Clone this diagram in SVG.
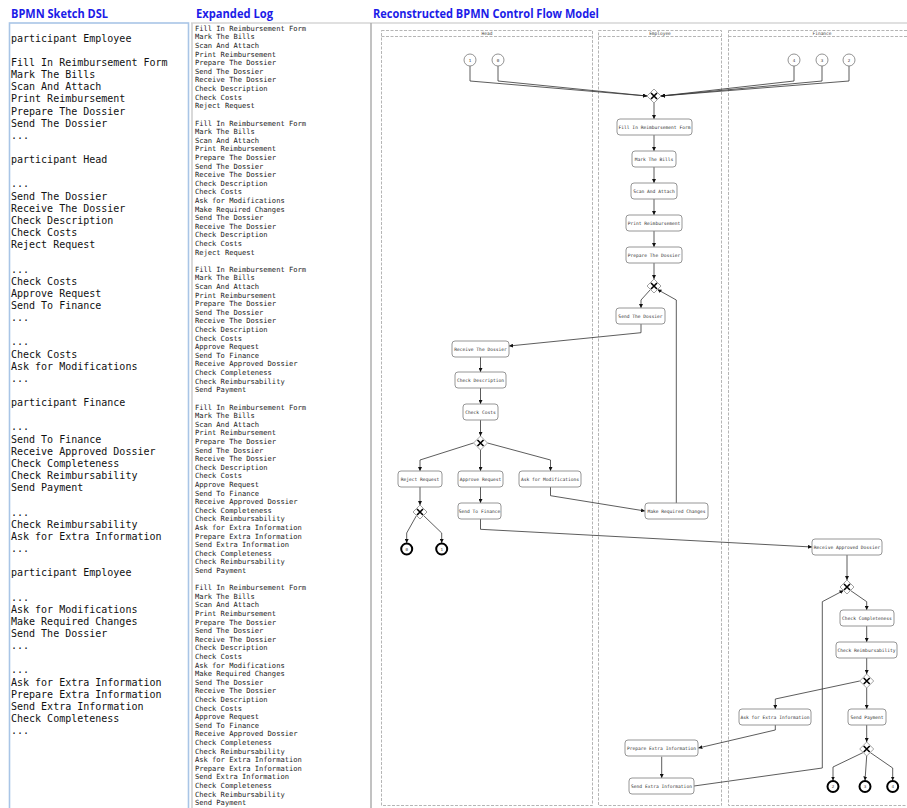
<svg xmlns="http://www.w3.org/2000/svg" width="907" height="808" viewBox="0 0 907 808">
<style>
.title{font-family:"Open Sans","Liberation Sans",sans-serif;font-weight:bold;font-size:13px;fill:#1c1ce8}
.dsl{font-family:"DejaVu Sans Mono","Liberation Mono",monospace;font-size:10px;fill:#111}
.log{font-family:"DejaVu Sans Mono","Liberation Mono",monospace;font-size:7.1px;fill:#222}
.lane{fill:none;stroke:#b5b5b5;stroke-width:1;stroke-dasharray:3 1.5}
.lanelbl{font-family:"DejaVu Sans Mono","Liberation Mono",monospace;font-size:4.5px;fill:#444;text-anchor:middle}
.task rect{fill:#fff;stroke:#8a8a8a;stroke-width:0.9}
.task text{font-family:"DejaVu Sans Mono","Liberation Mono",monospace;font-size:4.6px;fill:#333;text-anchor:middle}
.gw path.d{fill:#fff;stroke:#8a8a8a;stroke-width:0.8}
.gw path.x{stroke:#000;stroke-width:1.6;fill:none}
.start circle{fill:#fff;stroke:#777;stroke-width:0.8}
.end circle{fill:#fff;stroke:#000;stroke-width:2}
.ev text{font-family:"DejaVu Sans Mono","Liberation Mono",monospace;font-size:4.2px;fill:#333;text-anchor:middle}
.edges path{fill:none;stroke:#333;stroke-width:0.8;marker-end:url(#arr)}
</style>
<defs>
<marker id="arr" viewBox="0 0 6 6" refX="6" refY="3" markerWidth="4" markerHeight="4" markerUnits="userSpaceOnUse" orient="auto">
<path d="M0,0 L6,3 L0,6 z" fill="#111"/>
</marker>
</defs>
<rect width="907" height="808" fill="#fff"/>

<!-- titles -->
<text class="title" x="11" y="17.5" textLength="97" lengthAdjust="spacingAndGlyphs">BPMN Sketch DSL</text>
<text class="title" x="196" y="17.5" textLength="77" lengthAdjust="spacingAndGlyphs">Expanded Log</text>
<text class="title" x="373" y="17.5" textLength="226" lengthAdjust="spacingAndGlyphs">Reconstructed BPMN Control Flow Model</text>

<!-- panel borders -->
<rect x="9.5" y="23" width="179" height="800" fill="none" stroke="#a9c5e6" stroke-width="1.6"/>
<line x1="191" y1="23" x2="907" y2="23" stroke="#d6d6d6" stroke-width="1.6"/>
<line x1="192" y1="23" x2="192" y2="808" stroke="#d0d0d0" stroke-width="1.6"/>
<line x1="371" y1="23" x2="371" y2="808" stroke="#a8a8a8" stroke-width="1.4"/>

<!-- DSL text -->
<text class="dsl" xml:space="preserve">
<tspan x="11" y="41.6">participant Employee</tspan>
<tspan x="11" y="65.9">Fill In Reimbursement Form</tspan>
<tspan x="11" y="78.0">Mark The Bills</tspan>
<tspan x="11" y="90.2">Scan And Attach</tspan>
<tspan x="11" y="102.3">Print Reimbursement</tspan>
<tspan x="11" y="114.5">Prepare The Dossier</tspan>
<tspan x="11" y="126.6">Send The Dossier</tspan>
<tspan x="11" y="138.8">...</tspan>
<tspan x="11" y="163.1">participant Head</tspan>
<tspan x="11" y="187.4">...</tspan>
<tspan x="11" y="199.6">Send The Dossier</tspan>
<tspan x="11" y="211.7">Receive The Dossier</tspan>
<tspan x="11" y="223.9">Check Description</tspan>
<tspan x="11" y="236.0">Check Costs</tspan>
<tspan x="11" y="248.2">Reject Request</tspan>
<tspan x="11" y="272.5">...</tspan>
<tspan x="11" y="284.6">Check Costs</tspan>
<tspan x="11" y="296.8">Approve Request</tspan>
<tspan x="11" y="308.9">Send To Finance</tspan>
<tspan x="11" y="321.1">...</tspan>
<tspan x="11" y="345.4">...</tspan>
<tspan x="11" y="357.5">Check Costs</tspan>
<tspan x="11" y="369.7">Ask for Modifications</tspan>
<tspan x="11" y="381.8">...</tspan>
<tspan x="11" y="406.1">participant Finance</tspan>
<tspan x="11" y="430.4">...</tspan>
<tspan x="11" y="442.6">Send To Finance</tspan>
<tspan x="11" y="454.7">Receive Approved Dossier</tspan>
<tspan x="11" y="466.9">Check Completeness</tspan>
<tspan x="11" y="479.0">Check Reimbursability</tspan>
<tspan x="11" y="491.2">Send Payment</tspan>
<tspan x="11" y="515.5">...</tspan>
<tspan x="11" y="527.6">Check Reimbursability</tspan>
<tspan x="11" y="539.8">Ask for Extra Information</tspan>
<tspan x="11" y="551.9">...</tspan>
<tspan x="11" y="576.2">participant Employee</tspan>
<tspan x="11" y="600.5">...</tspan>
<tspan x="11" y="612.7">Ask for Modifications</tspan>
<tspan x="11" y="624.8">Make Required Changes</tspan>
<tspan x="11" y="637.0">Send The Dossier</tspan>
<tspan x="11" y="649.1">...</tspan>
<tspan x="11" y="673.4">...</tspan>
<tspan x="11" y="685.6">Ask for Extra Information</tspan>
<tspan x="11" y="697.7">Prepare Extra Information</tspan>
<tspan x="11" y="709.9">Send Extra Information</tspan>
<tspan x="11" y="722.0">Check Completeness</tspan>
<tspan x="11" y="734.2">...</tspan>
</text>

<!-- Expanded log -->
<text class="log">
<tspan x="195" y="30.8">Fill In Reimbursement Form</tspan>
<tspan x="195" y="39.4">Mark The Bills</tspan>
<tspan x="195" y="48.0">Scan And Attach</tspan>
<tspan x="195" y="56.6">Print Reimbursement</tspan>
<tspan x="195" y="65.2">Prepare The Dossier</tspan>
<tspan x="195" y="73.8">Send The Dossier</tspan>
<tspan x="195" y="82.4">Receive The Dossier</tspan>
<tspan x="195" y="91.0">Check Description</tspan>
<tspan x="195" y="99.6">Check Costs</tspan>
<tspan x="195" y="108.2">Reject Request</tspan>
<tspan x="195" y="125.5">Fill In Reimbursement Form</tspan>
<tspan x="195" y="134.1">Mark The Bills</tspan>
<tspan x="195" y="142.7">Scan And Attach</tspan>
<tspan x="195" y="151.3">Print Reimbursement</tspan>
<tspan x="195" y="159.9">Prepare The Dossier</tspan>
<tspan x="195" y="168.5">Send The Dossier</tspan>
<tspan x="195" y="177.1">Receive The Dossier</tspan>
<tspan x="195" y="185.7">Check Description</tspan>
<tspan x="195" y="194.3">Check Costs</tspan>
<tspan x="195" y="202.9">Ask for Modifications</tspan>
<tspan x="195" y="211.5">Make Required Changes</tspan>
<tspan x="195" y="220.1">Send The Dossier</tspan>
<tspan x="195" y="228.7">Receive The Dossier</tspan>
<tspan x="195" y="237.3">Check Description</tspan>
<tspan x="195" y="245.9">Check Costs</tspan>
<tspan x="195" y="254.5">Reject Request</tspan>
<tspan x="195" y="271.8">Fill In Reimbursement Form</tspan>
<tspan x="195" y="280.4">Mark The Bills</tspan>
<tspan x="195" y="289.0">Scan And Attach</tspan>
<tspan x="195" y="297.6">Print Reimbursement</tspan>
<tspan x="195" y="306.2">Prepare The Dossier</tspan>
<tspan x="195" y="314.8">Send The Dossier</tspan>
<tspan x="195" y="323.4">Receive The Dossier</tspan>
<tspan x="195" y="332.0">Check Description</tspan>
<tspan x="195" y="340.6">Check Costs</tspan>
<tspan x="195" y="349.2">Approve Request</tspan>
<tspan x="195" y="357.8">Send To Finance</tspan>
<tspan x="195" y="366.4">Receive Approved Dossier</tspan>
<tspan x="195" y="375.0">Check Completeness</tspan>
<tspan x="195" y="383.6">Check Reimbursability</tspan>
<tspan x="195" y="392.2">Send Payment</tspan>
<tspan x="195" y="409.5">Fill In Reimbursement Form</tspan>
<tspan x="195" y="418.1">Mark The Bills</tspan>
<tspan x="195" y="426.7">Scan And Attach</tspan>
<tspan x="195" y="435.3">Print Reimbursement</tspan>
<tspan x="195" y="443.9">Prepare The Dossier</tspan>
<tspan x="195" y="452.5">Send The Dossier</tspan>
<tspan x="195" y="461.1">Receive The Dossier</tspan>
<tspan x="195" y="469.7">Check Description</tspan>
<tspan x="195" y="478.3">Check Costs</tspan>
<tspan x="195" y="486.9">Approve Request</tspan>
<tspan x="195" y="495.5">Send To Finance</tspan>
<tspan x="195" y="504.1">Receive Approved Dossier</tspan>
<tspan x="195" y="512.7">Check Completeness</tspan>
<tspan x="195" y="521.3">Check Reimbursability</tspan>
<tspan x="195" y="529.9">Ask for Extra Information</tspan>
<tspan x="195" y="538.5">Prepare Extra Information</tspan>
<tspan x="195" y="547.1">Send Extra Information</tspan>
<tspan x="195" y="555.7">Check Completeness</tspan>
<tspan x="195" y="564.3">Check Reimbursability</tspan>
<tspan x="195" y="572.9">Send Payment</tspan>
<tspan x="195" y="590.2">Fill In Reimbursement Form</tspan>
<tspan x="195" y="598.8">Mark The Bills</tspan>
<tspan x="195" y="607.4">Scan And Attach</tspan>
<tspan x="195" y="616.0">Print Reimbursement</tspan>
<tspan x="195" y="624.6">Prepare The Dossier</tspan>
<tspan x="195" y="633.2">Send The Dossier</tspan>
<tspan x="195" y="641.8">Receive The Dossier</tspan>
<tspan x="195" y="650.4">Check Description</tspan>
<tspan x="195" y="659.0">Check Costs</tspan>
<tspan x="195" y="667.6">Ask for Modifications</tspan>
<tspan x="195" y="676.2">Make Required Changes</tspan>
<tspan x="195" y="684.8">Send The Dossier</tspan>
<tspan x="195" y="693.4">Receive The Dossier</tspan>
<tspan x="195" y="702.0">Check Description</tspan>
<tspan x="195" y="710.6">Check Costs</tspan>
<tspan x="195" y="719.2">Approve Request</tspan>
<tspan x="195" y="727.8">Send To Finance</tspan>
<tspan x="195" y="736.4">Receive Approved Dossier</tspan>
<tspan x="195" y="745.0">Check Completeness</tspan>
<tspan x="195" y="753.6">Check Reimbursability</tspan>
<tspan x="195" y="762.2">Ask for Extra Information</tspan>
<tspan x="195" y="770.8">Prepare Extra Information</tspan>
<tspan x="195" y="779.4">Send Extra Information</tspan>
<tspan x="195" y="788.0">Check Completeness</tspan>
<tspan x="195" y="796.6">Check Reimbursability</tspan>
<tspan x="195" y="805.2">Send Payment</tspan>
</text>

<!-- lanes -->
<g id="lane-head">
<rect class="lane" x="381.5" y="30.5" width="211" height="775"/>
<line class="lane" x1="381.5" y1="36.5" x2="592.5" y2="36.5"/>
<text class="lanelbl" x="487" y="35">Head</text>
</g>
<g id="lane-employee">
<rect class="lane" x="598.5" y="30.5" width="123" height="775"/>
<line class="lane" x1="598.5" y1="36.5" x2="721.5" y2="36.5"/>
<text class="lanelbl" x="660" y="35">Employee</text>
</g>
<g id="lane-finance">
<rect class="lane" x="728.5" y="30.5" width="187" height="775"/>
<line class="lane" x1="728.5" y1="36.5" x2="915.5" y2="36.5"/>
<text class="lanelbl" x="822" y="35">Finance</text>
</g>

<!-- connectors -->
<g id="edges" class="edges">
<path d="M470,66 V81 L647,96"/>
<path d="M498,66 V81 L647,96"/>
<path d="M794,66 V81 L661,96"/>
<path d="M822,66 V81 L661,96"/>
<path d="M849,66 V81 L661,96"/>
<path d="M654,103 V119"/>
<path d="M654,135 V151"/>
<path d="M654,167 V183"/>
<path d="M654,199 V215"/>
<path d="M654,231 V247"/>
<path d="M654,263 V279"/>
<path d="M650.5,289.5 L641,300 V308"/>
<path d="M641,324 V332.7 L509,346"/>
<path d="M480.5,357 V372"/>
<path d="M480.5,388 V404"/>
<path d="M480.5,420 V436"/>
<path d="M473.5,443 L420,460 V471"/>
<path d="M480.5,450 V471"/>
<path d="M487.5,443 L550.5,460 V471"/>
<path d="M420,487 V505"/>
<path d="M416.5,515.5 L406.7,533 V543"/>
<path d="M423.5,515.5 L441.7,533 V543"/>
<path d="M480.5,487 V503"/>
<path d="M480.5,519 V529.3 L812,547"/>
<path d="M550.5,487 V495.7 L645,511"/>
<path d="M676.3,503 V300 L657.5,289.5"/>
<path d="M847,555 V580"/>
<path d="M850.5,590.5 L866.7,601.7 V610"/>
<path d="M866.7,626 V642"/>
<path d="M866.7,658 V674"/>
<path d="M859.7,681 L775.3,699 V709"/>
<path d="M866.7,688 V709"/>
<path d="M775.3,725 V730 L698.3,748"/>
<path d="M661.7,756.7 V778"/>
<path d="M694,786 L822.3,768 V601.7 L843.5,590.5"/>
<path d="M866.7,725 V742"/>
<path d="M863.2,752.5 L833,767 V780.5"/>
<path d="M866.7,756 L865,780.5"/>
<path d="M870.2,752.5 L892.7,768 V780.5"/>
</g>

<!-- start events -->
<g id="start-1" class="ev start"><circle cx="470" cy="60" r="6"/><text x="470" y="61.5">1</text></g>
<g id="start-0" class="ev start"><circle cx="498" cy="60" r="6"/><text x="498" y="61.5">0</text></g>
<g id="start-4" class="ev start"><circle cx="794" cy="60" r="6"/><text x="794" y="61.5">4</text></g>
<g id="start-3" class="ev start"><circle cx="822" cy="60" r="6"/><text x="822" y="61.5">3</text></g>
<g id="start-2" class="ev start"><circle cx="849" cy="60" r="6"/><text x="849" y="61.5">2</text></g>

<!-- gateways -->
<g id="gw1" class="gw" transform="translate(654,96)"><path class="d" d="M0,-7 L7,0 L0,7 L-7,0 z"/><path class="x" d="M-3,-3 L3,3 M3,-3 L-3,3"/></g>
<g id="gw2" class="gw" transform="translate(654,286)"><path class="d" d="M0,-7 L7,0 L0,7 L-7,0 z"/><path class="x" d="M-3,-3 L3,3 M3,-3 L-3,3"/></g>
<g id="gw3" class="gw" transform="translate(480.5,443)"><path class="d" d="M0,-7 L7,0 L0,7 L-7,0 z"/><path class="x" d="M-3,-3 L3,3 M3,-3 L-3,3"/></g>
<g id="gw4" class="gw" transform="translate(420,512)"><path class="d" d="M0,-7 L7,0 L0,7 L-7,0 z"/><path class="x" d="M-3,-3 L3,3 M3,-3 L-3,3"/></g>
<g id="gw5" class="gw" transform="translate(847,587)"><path class="d" d="M0,-7 L7,0 L0,7 L-7,0 z"/><path class="x" d="M-3,-3 L3,3 M3,-3 L-3,3"/></g>
<g id="gw6" class="gw" transform="translate(866.7,681)"><path class="d" d="M0,-7 L7,0 L0,7 L-7,0 z"/><path class="x" d="M-3,-3 L3,3 M3,-3 L-3,3"/></g>
<g id="gw7" class="gw" transform="translate(866.7,749)"><path class="d" d="M0,-7 L7,0 L0,7 L-7,0 z"/><path class="x" d="M-3,-3 L3,3 M3,-3 L-3,3"/></g>

<!-- tasks -->
<g id="t-fill" class="task"><rect x="617" y="119" width="75" height="16" rx="3"/><text x="654.5" y="128.6">Fill In Reimbursement Form</text></g>
<g id="t-mark" class="task"><rect x="632" y="151" width="44" height="16" rx="3"/><text x="654" y="160.6">Mark The Bills</text></g>
<g id="t-scan" class="task"><rect x="631" y="183" width="46" height="16" rx="3"/><text x="654" y="192.6">Scan And Attach</text></g>
<g id="t-print" class="task"><rect x="626" y="215" width="56" height="16" rx="3"/><text x="654" y="224.6">Print Reimbursement</text></g>
<g id="t-prepare" class="task"><rect x="626" y="247" width="56" height="16" rx="3"/><text x="654" y="256.6">Prepare The Dossier</text></g>
<g id="t-send" class="task"><rect x="616" y="308" width="49" height="16" rx="3"/><text x="640.5" y="317.6">Send The Dossier</text></g>
<g id="t-receive" class="task"><rect x="452" y="341" width="57" height="16" rx="3"/><text x="480.5" y="350.6">Receive The Dossier</text></g>
<g id="t-desc" class="task"><rect x="455" y="372" width="51" height="16" rx="3"/><text x="480.5" y="381.6">Check Description</text></g>
<g id="t-costs" class="task"><rect x="463" y="404" width="35" height="16" rx="3"/><text x="480.5" y="413.6">Check Costs</text></g>
<g id="t-reject" class="task"><rect x="398" y="471" width="44" height="16" rx="3"/><text x="420" y="480.6">Reject Request</text></g>
<g id="t-approve" class="task"><rect x="458" y="471" width="45" height="16" rx="3"/><text x="480.5" y="480.6">Approve Request</text></g>
<g id="t-askmod" class="task"><rect x="519" y="471" width="62" height="16" rx="3"/><text x="550" y="480.6">Ask for Modifications</text></g>
<g id="t-tofin" class="task"><rect x="458" y="503" width="43" height="16" rx="3"/><text x="479.5" y="512.6">Send To Finance</text></g>
<g id="t-makereq" class="task"><rect x="645" y="503" width="63" height="16" rx="3"/><text x="676.5" y="512.6">Make Required Changes</text></g>
<g id="t-recapp" class="task"><rect x="812" y="539" width="70" height="16" rx="3"/><text x="847" y="548.6">Receive Approved Dossier</text></g>
<g id="t-compl" class="task"><rect x="840" y="610" width="54" height="16" rx="3"/><text x="867" y="619.6">Check Completeness</text></g>
<g id="t-reimb" class="task"><rect x="836" y="642" width="61" height="16" rx="3"/><text x="866.5" y="651.6">Check Reimbursability</text></g>
<g id="t-askextra" class="task"><rect x="739" y="709" width="72" height="16" rx="3"/><text x="775" y="718.6">Ask for Extra Information</text></g>
<g id="t-pay" class="task"><rect x="848" y="709" width="38" height="16" rx="3"/><text x="867" y="718.6">Send Payment</text></g>
<g id="t-prepextra" class="task"><rect x="625" y="740" width="73" height="16" rx="3"/><text x="661.5" y="749.6">Prepare Extra Information</text></g>
<g id="t-sendextra" class="task"><rect x="629" y="778" width="65" height="16" rx="3"/><text x="661.5" y="787.6">Send Extra Information</text></g>

<!-- end events -->
<g id="end-0" class="ev end"><circle cx="406.7" cy="549" r="5.5"/><text x="406.7" y="550.5">0</text></g>
<g id="end-1" class="ev end"><circle cx="441.7" cy="549" r="5.5"/><text x="441.7" y="550.5">1</text></g>
<g id="end-2" class="ev end"><circle cx="833" cy="786.5" r="5.5"/><text x="833" y="788">2</text></g>
<g id="end-3" class="ev end"><circle cx="865" cy="786.5" r="5.5"/><text x="865" y="788">3</text></g>
<g id="end-4" class="ev end"><circle cx="892.7" cy="786.5" r="5.5"/><text x="892.7" y="788">4</text></g>
</svg>
